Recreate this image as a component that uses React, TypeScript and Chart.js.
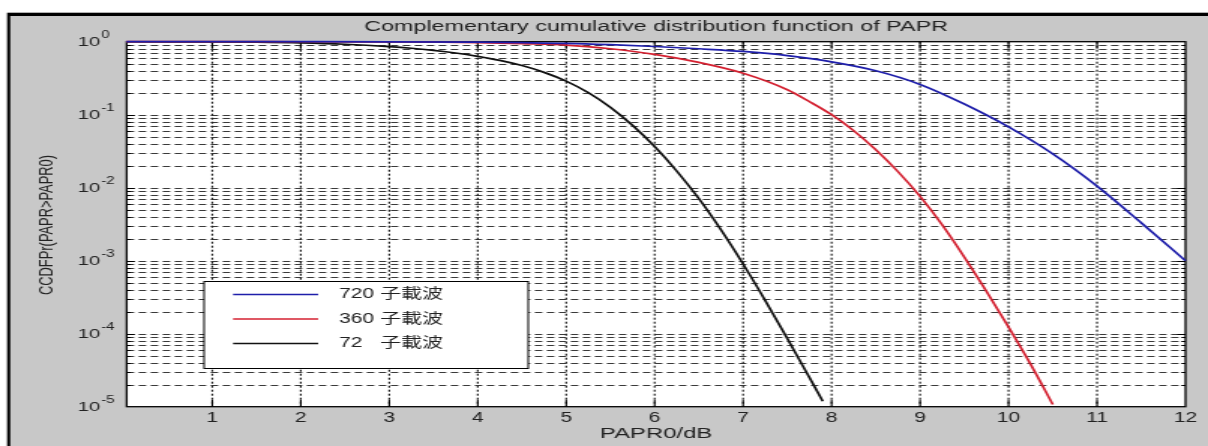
import React, { useEffect, useRef } from 'react';
import { Chart, registerables } from 'chart.js';

Chart.register(...registerables);

// ---------------- data ----------------
const x720 = [0.03, 1, 2, 3, 4, 4.5, 5, 5.5, 6, 6.5, 7, 7.5, 8, 8.5, 9, 9.5, 10, 10.5, 11, 11.5, 12];
const ccdf720 = [1, 0.9999, 0.9995, 0.997, 0.985, 0.97, 0.95, 0.91, 0.86, 0.8, 0.735, 0.645, 0.53, 0.4, 0.26, 0.14, 0.068, 0.029, 0.0105, 0.0033, 0.001];

const x360 = [0.03, 1, 2, 3, 3.5, 4, 4.5, 5, 5.5, 6, 6.5, 7, 7.5, 7.75, 8, 8.25, 8.5, 8.75, 9, 9.25, 9.5, 9.75, 10, 10.25, 10.5];
const ccdf360 = [1, 0.9998, 0.999, 0.995, 0.985, 0.97, 0.94, 0.9, 0.8, 0.67, 0.52, 0.37, 0.22, 0.151, 0.1, 0.0603, 0.0331, 0.0166, 0.00759, 0.00309, 0.00112, 0.00038, 0.000123, 0.000038, 0.0000107];

const x72 = [0.03, 0.5, 1, 1.5, 2, 2.5, 3, 3.25, 3.5, 3.75, 4, 4.25, 4.5, 4.75, 5, 5.25, 5.5, 5.75, 6, 6.25, 6.5, 6.75, 7, 7.25, 7.5, 7.75, 7.9];
const ccdf72 = [0.9988, 0.9965, 0.992, 0.984, 0.964, 0.923, 0.856, 0.813, 0.76, 0.7, 0.63, 0.555, 0.471, 0.38, 0.288, 0.2, 0.126, 0.0714, 0.0366, 0.0169, 0.00706, 0.00264, 0.0009, 0.000284, 0.0000856, 0.000025, 0.0000119];

const seriesLabels = ['720 子載波', '360 子載波', '72   子載波'];
const seriesColors = ['#1e1eaa', '#d42030', '#111111'];

const xTickValues = [1, 2, 3, 4, 5, 6, 7, 8, 9, 10, 11, 12];
const yTickExponents = [0, -1, -2, -3, -4, -5];

const titleText = 'Complementary cumulative distribution function of PAPR';
const xTitleText = 'PAPR0/dB';
const yTitleText = 'CCDFPr(PAPR>PAPR0)';

// ---------------- layout ----------------
const CANVAS_W = 805;
const CANVAS_H = 446;
const PAGE_W = 1208;
const FONT_FAMILY = '"Liberation Sans", Arial, "Noto Sans CJK TC", sans-serif';
const TEXT_COLOR = '#222222';

function yGridValues(): number[] {
  const v: number[] = [];
  for (let e = -5; e < 0; e++) {
    for (let m = 1; m <= 9; m++) {
      if (e === -5 && m === 1) continue;
      v.push(m * Math.pow(10, e));
    }
  }
  return v;
}

function drawText(
  ctx: CanvasRenderingContext2D,
  text: string,
  x: number,
  y: number,
  font: string,
  align: CanvasTextAlign,
  targetWidth?: number,
  rotate?: number
) {
  ctx.save();
  ctx.font = font;
  ctx.fillStyle = TEXT_COLOR;
  ctx.textAlign = align;
  ctx.textBaseline = 'middle';
  ctx.translate(x, y);
  if (rotate) ctx.rotate(rotate);
  if (targetWidth) {
    const w = ctx.measureText(text).width;
    ctx.scale(targetWidth / w, 1);
  }
  ctx.fillText(text, 0, 0);
  ctx.restore();
}

const figurePlugin = {
  id: 'matlabFigure',
  beforeDraw(chart: any) {
    const { ctx, chartArea: a } = chart;
    ctx.save();
    ctx.fillStyle = '#ffffff';
    ctx.fillRect(0, 0, CANVAS_W, CANVAS_H);
    ctx.fillStyle = '#000000';
    ctx.fillRect(4.7, 12.7, CANVAS_W, CANVAS_H);
    ctx.fillStyle = '#c8c8c8';
    ctx.fillRect(6.8, 16, CANVAS_W, CANVAS_H);
    ctx.fillStyle = '#ffffff';
    ctx.fillRect(a.left, a.top, a.right - a.left, a.bottom - a.top);
    ctx.restore();
  },
  beforeDatasetsDraw(chart: any) {
    const { ctx, chartArea: a, scales } = chart;
    const xs = scales.x;
    const ys = scales.y;
    ctx.save();
    // horizontal (log) grid lines
    ctx.strokeStyle = '#3a3a3a';
    ctx.lineWidth = 1;
    ctx.setLineDash([5, 3]);
    for (const v of yGridValues()) {
      const y = Math.round(ys.getPixelForValue(v)) + 0.5;
      ctx.beginPath();
      ctx.moveTo(a.left, y);
      ctx.lineTo(a.right, y);
      ctx.stroke();
    }
    // vertical grid lines
    ctx.strokeStyle = '#222222';
    ctx.lineWidth = 1.2;
    ctx.setLineDash([2, 2]);
    for (const t of xTickValues) {
      if (t >= 12) continue;
      const x = xs.getPixelForValue(t);
      ctx.beginPath();
      ctx.moveTo(x, a.top);
      ctx.lineTo(x, a.bottom);
      ctx.stroke();
    }
    ctx.setLineDash([]);
    // tick marks
    ctx.strokeStyle = '#000000';
    ctx.lineWidth = 1;
    for (const v of yGridValues()) {
      const major = Math.abs(Math.log10(v) - Math.round(Math.log10(v))) < 1e-9;
      const len = major ? 5.5 : 2.8;
      const y = Math.round(ys.getPixelForValue(v)) + 0.5;
      ctx.beginPath();
      ctx.moveTo(a.left, y);
      ctx.lineTo(a.left + len, y);
      ctx.moveTo(a.right, y);
      ctx.lineTo(a.right - len, y);
      ctx.stroke();
    }
    ctx.lineWidth = 1.1;
    for (const t of xTickValues) {
      if (t >= 12) continue;
      const x = xs.getPixelForValue(t);
      ctx.beginPath();
      ctx.moveTo(x, a.bottom);
      ctx.lineTo(x, a.bottom - 7);
      ctx.moveTo(x, a.top);
      ctx.lineTo(x, a.top + 7);
      ctx.stroke();
    }
    // axes box
    ctx.lineWidth = 1.3;
    ctx.strokeStyle = '#000000';
    ctx.strokeRect(a.left, a.top, a.right - a.left, a.bottom - a.top);
    ctx.restore();
  },
  afterDraw(chart: any) {
    const { ctx, chartArea: a, scales } = chart;
    const xs = scales.x;
    const ys = scales.y;
    // y tick labels: 10^e
    for (const e of yTickExponents) {
      const y = ys.getPixelForValue(Math.pow(10, e));
      drawText(ctx, '10', 66.7, y + 0.5, `13.5px ${FONT_FAMILY}`, 'right');
      drawText(ctx, e === 0 ? '0' : '-' + Math.abs(e), 67.5, y - 6.5, `10px ${FONT_FAMILY}`, 'left');
    }
    // x tick labels
    for (const t of xTickValues) {
      drawText(ctx, String(t), xs.getPixelForValue(t), 418.5, `14px ${FONT_FAMILY}`, 'center');
    }
    const cx = (a.left + a.right) / 2;
    drawText(ctx, titleText, cx, 27, `14px ${FONT_FAMILY}`, 'center', 389);
    drawText(ctx, xTitleText, cx, 434, `14px ${FONT_FAMILY}`, 'center', 75);
    drawText(ctx, yTitleText, 31.8, 225, `12.5px ${FONT_FAMILY}`, 'center', 140, -Math.PI / 2);

    // legend
    ctx.save();
    ctx.fillStyle = '#ffffff';
    ctx.fillRect(136, 281, 216, 87);
    ctx.strokeStyle = '#000000';
    ctx.lineWidth = 1;
    ctx.strokeRect(136, 281.5, 216, 87);
    const rows = [294.5, 319, 343.5];
    chart.data.datasets.forEach((ds: any, i: number) => {
      const y = rows[i];
      ctx.strokeStyle = ds.borderColor;
      ctx.lineWidth = 1.7;
      ctx.beginPath();
      ctx.moveTo(155.3, y);
      ctx.lineTo(212, y);
      ctx.stroke();
      drawText(ctx, ds.label, 226, y, `14px ${FONT_FAMILY}`, 'left');
    });
    ctx.restore();
  },
};

export default function App() {
  const ref = useRef<HTMLCanvasElement>(null);
  useEffect(() => {
    const canvas = ref.current;
    if (!canvas) return;
    const xsList = [x720, x360, x72];
    const ysList = [ccdf720, ccdf360, ccdf72];
    const chart = new Chart(canvas, {
      type: 'line',
      data: {
        datasets: seriesLabels.map((label, i) => ({
          label,
          data: xsList[i].map((x, j) => ({ x, y: ysList[i][j] })),
          borderColor: seriesColors[i],
          backgroundColor: seriesColors[i],
          borderWidth: 1.7,
          pointRadius: 0,
          fill: false,
          cubicInterpolationMode: 'monotone' as const,
          clip: 3,
        })),
      },
      options: {
        responsive: false,
        animation: false,
        devicePixelRatio: 1,
        events: [],
        layout: { padding: { left: 84.4, right: 15, top: 41.7, bottom: 39.3 } },
        plugins: {
          legend: { display: false },
          title: { display: false },
          tooltip: { enabled: false },
        },
        scales: {
          x: { type: 'linear', min: 0.032, max: 12, display: false },
          y: { type: 'logarithmic', min: 1e-5, max: 1, display: false },
        },
      },
      plugins: [figurePlugin],
    } as any);
    return () => chart.destroy();
  }, []);
  return (
    <div style={{ position: 'fixed', left: 0, top: 0, width: PAGE_W, height: CANVAS_H, background: '#fff' }}>
      <canvas
        ref={ref}
        width={CANVAS_W}
        height={CANVAS_H}
        style={{ display: 'block', width: PAGE_W + 'px', height: CANVAS_H + 'px' }}
      />
    </div>
  );
}
